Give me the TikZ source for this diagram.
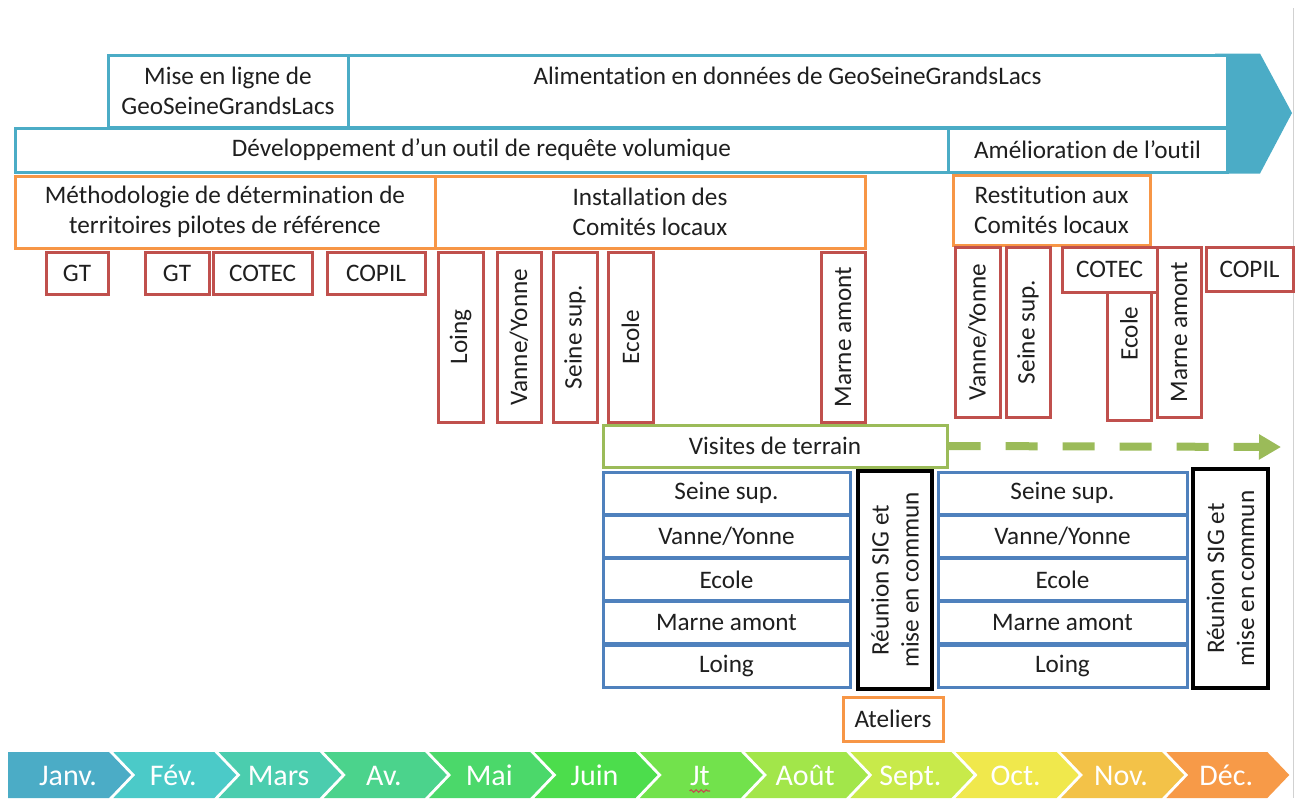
\documentclass[tikz,border=0pt]{standalone}
\usepackage{fontspec}
\setmainfont{Carlito}[Ligatures=NoCommon]
\usetikzlibrary{arrows.meta,decorations.pathmorphing}
\definecolor{geoblue}{HTML}{4BACC6}
\definecolor{geoorange}{HTML}{F79646}
\definecolor{geored}{HTML}{C0504D}
\definecolor{geogreen}{HTML}{9BBB59}
\definecolor{listblue}{HTML}{4F81BD}
% month colours, Janv. = mois0 ... Déc. = mois11
\definecolor{mois0}{HTML}{4BACC6}
\definecolor{mois1}{HTML}{4BCAC8}
\definecolor{mois2}{HTML}{4BCDAE}
\definecolor{mois3}{HTML}{4BD38C}
\definecolor{mois4}{HTML}{4BD86A}
\definecolor{mois5}{HTML}{4CDD4C}
\definecolor{mois6}{HTML}{72E24C}
\definecolor{mois7}{HTML}{A2E64A}
\definecolor{mois8}{HTML}{C8EA4A}
\definecolor{mois9}{HTML}{F0E84C}
\definecolor{mois10}{HTML}{F3C248}
\definecolor{mois11}{HTML}{F79A48}

\begin{document}
\begin{tikzpicture}[
  x=0.5pt, y=-0.5pt,
  every node/.style={font=\fontsize{12.6}{15}\selectfont, text=black!88,
                     inner sep=0pt, align=center},
  tealbox/.style  ={draw=geoblue, fill=white, line width=1.5pt},
  orangebox/.style={draw=geoorange, fill=white, line width=1.5pt},
  redbox/.style   ={draw=geored, fill=white, line width=1.5pt},
  greenbox/.style ={draw=geogreen, fill=white, line width=1.5pt},
  listbox/.style  ={draw=listblue, fill=white, line width=1.5pt},
  blackbox/.style ={draw=black, fill=white, line width=1.8pt},
  visarrow/.style ={draw=geogreen, line width=4pt, dash pattern=on 16pt off 12.5pt,
                    -{Triangle[length=11pt, width=12pt]}},
  monthlabel/.style={font=\fontsize{15}{18}\selectfont, text=white, anchor=base}]

\useasboundingbox (0,0) rectangle (1295,798);

% box from (x1,y1) to (x2,y2) in pixels of the sheet
\newcommand{\planbox}[7]{%
  \pgfmathsetmacro\pbw{((#5)-(#3))*0.5}\pgfmathsetmacro\pbh{((#6)-(#4))*0.5}%
  \node[#2, minimum width=\pbw pt, minimum height=\pbh pt] (#1)
    at ({((#3)+(#5))/2},{((#4)+(#6))/2}) {#7};}
\newcommand{\planvbox}[7]{%
  \pgfmathsetmacro\pbw{((#5)-(#3))*0.5}\pgfmathsetmacro\pbh{((#6)-(#4))*0.5}%
  \node[#2, rotate=90, minimum width=\pbh pt, minimum height=\pbw pt] (#1)
    at ({((#3)+(#5))/2},{((#4)+(#6))/2}) {#7};}

\draw[black!18, line width=0.5pt] (1293,8) -- (1293,798);

% ======================  platform and tool  ==========================
\fill[geoblue] (1215,53.5) -- (1260,53.5) -- (1292,113) -- (1260,173.5)
  -- (1215,173.5) -- cycle;
\planbox{mise}{tealbox}{108}{55}{348}{127}{Mise en ligne de\\GeoSeineGrandsLacs}
\planbox{alim}{tealbox}{348}{55}{1227}{127}{Alimentation en données de GeoSeineGrandsLacs\\\mbox{}}
\planbox{dev}{tealbox}{15}{128}{948}{172}{Développement d’un outil de requête volumique}
\planbox{amel}{tealbox}{948}{128}{1227}{172}{Amélioration de l’outil}

% ======================  territories  ================================
\planbox{methodo}{orangebox}{15}{176}{435}{248}{Méthodologie de détermination de\\territoires pilotes de référence}
\planbox{install}{orangebox}{435}{176}{865}{248}{Installation des\\Comités locaux}
\planbox{restit}{orangebox}{953}{175}{1150}{245}{Restitution aux\\Comités locaux}

\planbox{gtA}{redbox}{46}{252}{108}{294}{GT}
\planbox{gtB}{redbox}{145}{252}{209}{294}{GT}
\planbox{cotecA}{redbox}{213}{252}{312}{294}{COTEC}
\planbox{copilA}{redbox}{327}{252}{425}{294}{COPIL}

\planvbox{loingA}{redbox}{438}{252}{483}{422}{Loing}
\planvbox{vanneA}{redbox}{497}{252}{541}{422}{Vanne/Yonne}
\planvbox{seineA}{redbox}{553}{252}{597}{422}{Seine sup.}
\planvbox{ecoleA}{redbox}{608}{252}{653}{422}{Ecole}
\planvbox{marneA}{redbox}{821}{252}{865}{422}{Marne amont}

\planvbox{vanneB}{redbox}{955}{247}{1000}{417}{Vanne/Yonne}
\planvbox{seineB}{redbox}{1006}{247}{1050}{417}{Seine sup.}
\planvbox{ecoleB}{redbox}{1107}{247}{1151}{420}{Ecole}
\planbox{cotecB}{redbox}{1062}{247}{1157}{292}{COTEC}
\planvbox{marneB}{redbox}{1157}{247}{1201}{417}{Marne amont}
\planbox{copilB}{redbox}{1206}{247}{1293}{291}{COPIL}

% ======================  field visits  ===============================
\planbox{visites}{greenbox}{603}{425}{947}{467}{Visites de terrain}
\coordinate (visend) at (1281,447);
\draw[visarrow] (visites.east) -- (visend);

\foreach \t [count=\k from 0] in {Seine sup., Vanne/Yonne, Ecole, Marne amont, Loing}{
  \planbox{listA\k}{listbox}{603}{472+43.3*\k}{850}{514+43.3*\k}{\t}
  \planbox{listB\k}{listbox}{938}{472+43.3*\k}{1187}{514+43.3*\k}{\t}
}
\planvbox{reunionA}{blackbox}{858}{471}{932}{689}{Réunion SIG et\\mise en commun}
\planvbox{reunionB}{blackbox}{1193}{469}{1268}{688}{Réunion SIG et\\mise en commun}
\planbox{ateliers}{orangebox}{843}{697}{943}{741}{Ateliers}

% ======================  months  =====================================
\foreach \m [count=\i from 0] in {Janv., Fév., Mars, Av., Mai, Juin, Jt, Août,
                                  Sept., Oct., Nov., Déc.}{
  \pgfmathsetmacro\Lx{8+105.3*\i}
  \pgfmathsetmacro\Rx{\Lx+101}
  \ifnum\i=0
    \fill[mois\i] (\Lx,752) -- (\Rx,752) -- (\Rx+22,775) -- (\Rx,798)
      -- (\Lx,798) -- cycle;
  \else
    \fill[mois\i] (\Lx,752) -- (\Rx,752) -- (\Rx+22,775) -- (\Rx,798)
      -- (\Lx,798) -- (\Lx+22,775) -- cycle;
  \fi
  \node[monthlabel] (mois\i) at (\Lx+60,785) {\m};
}
\draw[geored, line width=0.6pt, decorate,
      decoration={snake, amplitude=0.6pt, segment length=2.5pt}]
  ([yshift=-3pt]mois6.base west) -- ([yshift=-3pt]mois6.base east);

\end{tikzpicture}
\end{document}
